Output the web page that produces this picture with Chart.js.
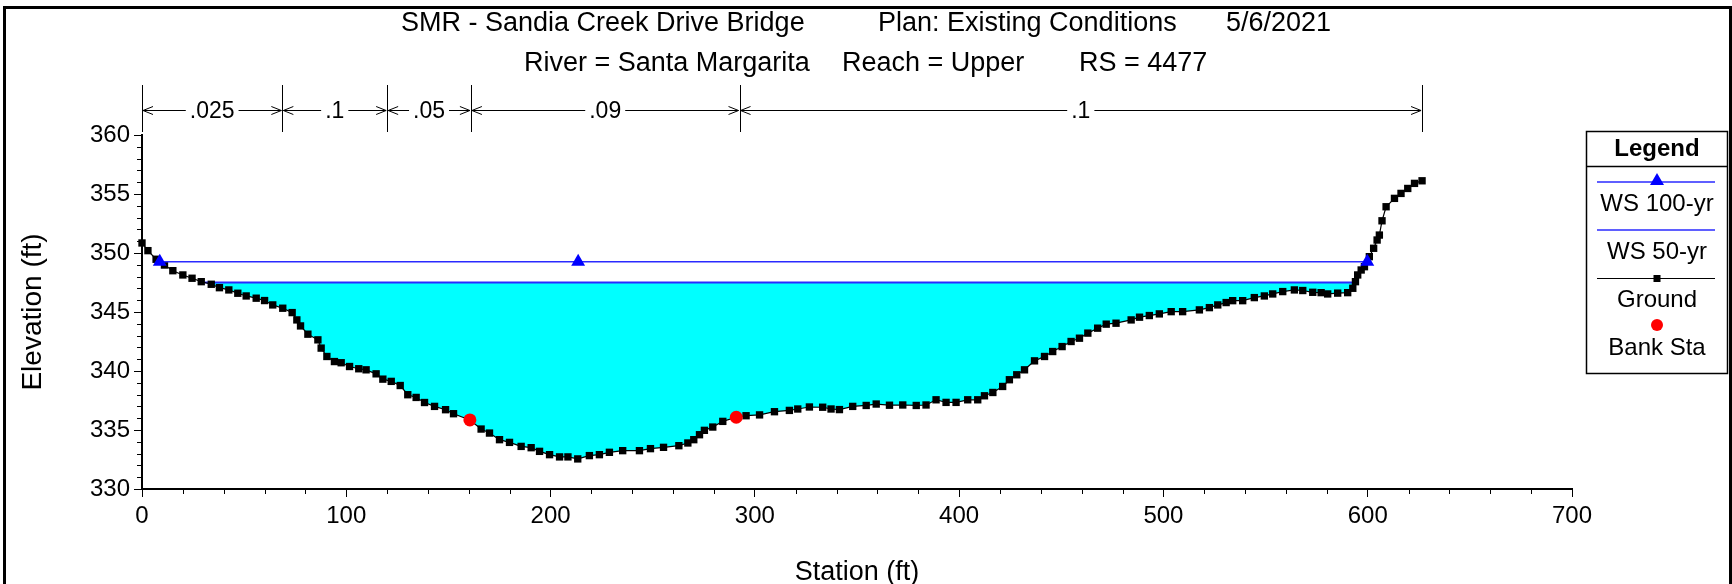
<!DOCTYPE html>
<html>
<head>
<meta charset="utf-8">
<title>Cross Section RS 4477</title>
<script src="https://cdn.jsdelivr.net/npm/chart.js@4.4.0/dist/chart.umd.min.js"></script>
<style>
  html, body { margin: 0; padding: 0; background: #fff; }
  canvas { display: block; }
</style>
</head>
<body>
<canvas id="xs-chart" width="1732" height="584"></canvas>
<script>
// Header text, one entry per block on each line
const titleLine1 = ['SMR - Sandia Creek Drive Bridge', 'Plan: Existing Conditions', '5/6/2021'];
const titleLine2 = ['River = Santa Margarita', 'Reach = Upper', 'RS = 4477'];

// Ground profile (station ft, elevation ft)
const groundStation = [
  0.0, 2.9, 6.9, 11.0, 15.1, 20.0, 24.5, 29.0, 33.9, 37.9,
  42.5, 46.9, 51.0, 55.9, 60.0, 64.0, 68.9, 73.5, 75.8, 77.6,
  81.2, 86.1, 87.7, 90.5, 94.2, 97.5, 101.6, 106.1, 109.7, 114.6,
  117.9, 122.0, 126.4, 130.1, 134.2, 138.3, 143.2, 148.6, 152.5, 160.5,
  166.0, 170.1, 175.0, 179.9, 185.6, 190.5, 194.6, 199.5, 204.4, 208.5,
  213.3, 219.0, 223.9, 228.8, 235.3, 243.5, 248.9, 255.3, 262.8, 267.2,
  270.1, 272.9, 275.3, 279.4, 284.3, 290.9, 295.7, 302.3, 309.6, 316.9,
  321.0, 326.7, 333.2, 337.3, 341.4, 347.9, 354.5, 359.4, 365.9, 372.4,
  379.0, 383.8, 388.7, 393.6, 398.5, 404.2, 409.1, 412.4, 416.5, 421.3,
  424.6, 428.2, 432.0, 436.9, 441.8, 445.8, 450.4, 454.8, 458.9, 463.0,
  467.8, 472.0, 476.8, 484.2, 488.3, 493.1, 498.0, 503.8, 509.4, 517.6,
  522.5, 526.6, 530.7, 533.9, 538.8, 544.5, 549.4, 553.5, 558.4, 564.1,
  568.2, 573.1, 577.2, 580.4, 585.3, 590.2, 592.7, 594.0, 595.1, 596.8,
  598.4, 600.8, 602.9, 604.6, 605.7, 607.0, 609.0, 613.1, 616.3, 619.6,
  622.9, 626.6
];
const groundElev = [
  350.85, 350.20, 349.47, 348.98, 348.50, 348.14, 347.86, 347.57, 347.35, 347.06,
  346.87, 346.59, 346.36, 346.17, 345.97, 345.60, 345.32, 344.95, 344.33, 343.82,
  343.12, 342.64, 341.94, 341.23, 340.80, 340.70, 340.38, 340.19, 340.10, 339.76,
  339.31, 339.12, 338.77, 337.99, 337.76, 337.33, 337.00, 336.72, 336.38, 335.85,
  335.08, 334.74, 334.18, 333.95, 333.61, 333.50, 333.19, 332.91, 332.72, 332.72,
  332.55, 332.83, 332.91, 333.11, 333.25, 333.25, 333.42, 333.53, 333.67, 333.90,
  334.18, 334.60, 334.97, 335.25, 335.73, 336.08, 336.21, 336.28, 336.55, 336.66,
  336.78, 336.95, 336.93, 336.78, 336.73, 337.00, 337.08, 337.20, 337.10, 337.12,
  337.08, 337.12, 337.56, 337.34, 337.34, 337.56, 337.56, 337.90, 338.18, 338.69,
  339.26, 339.68, 340.10, 340.86, 341.23, 341.65, 342.07, 342.50, 342.78, 343.21,
  343.63, 343.97, 344.05, 344.33, 344.56, 344.70, 344.84, 345.03, 345.03, 345.18,
  345.37, 345.60, 345.80, 345.96, 345.96, 346.22, 346.36, 346.53, 346.73, 346.87,
  346.82, 346.67, 346.64, 346.53, 346.60, 346.64, 347.01, 347.57, 348.14, 348.56,
  348.84, 349.69, 350.40, 351.10, 351.52, 352.73, 353.92, 354.63, 355.05, 355.47,
  355.90, 356.12
];

// Bank stations
const bankStation = [160.5, 290.9];
const bankElev = [335.85, 336.08];

// Water surfaces
const ws100Station = [8.7, 213.5, 599.8];
const ws100Elev = 349.26;
const ws50Station = [30.8, 593.6];
const ws50Elev = 347.49;

// Manning's n breakpoints and values across the section
const nBreaks = [0, 68.7, 120, 161, 292.5, 626.6];
const nValues = ['.025', '.1', '.05', '.09', '.1'];

// Axis ranges
const xMin = 0, xMax = 700, xStep = 100, xMinorStep = 20;
const yMin = 330, yMax = 360, yStep = 5, yMinorStep = 1;

const FONT = '"Liberation Sans", Arial, Helvetica, sans-serif';
const WS_BLUE = '#2a2aff';

const groundPoints = groundStation.map((s, i) => ({ x: s, y: groundElev[i] }));
const bankPoints = bankStation.map((s, i) => ({ x: s, y: bankElev[i] }));
const ws100Points = ws100Station.map(s => ({ x: s, y: ws100Elev }));
const ws50Points = ws50Station.map(s => ({ x: s, y: ws50Elev }));

function line(ctx, x0, y0, x1, y1) {
    ctx.beginPath();
    ctx.moveTo(x0, y0);
    ctx.lineTo(x1, y1);
    ctx.stroke();
}

// Frame, header, minor ticks, n-value bar and the legend box
const decorPlugin = {
    id: 'decor',
    afterDraw(chart) {
        const ctx = chart.ctx;
        const xs = chart.scales.x;
        const ys = chart.scales.y;
        ctx.save();

        ctx.strokeStyle = '#000';
        ctx.lineWidth = 3;
        ctx.strokeRect(4.5, 7.5, 1726, 600);

        // header
        ctx.fillStyle = '#000';
        ctx.font = '27px ' + FONT;
        ctx.textBaseline = 'middle';
        ctx.textAlign = 'left';
        ctx.fillText(titleLine1[0], 401, 24);
        ctx.fillText(titleLine1[1], 878, 24);
        ctx.textAlign = 'right';
        ctx.fillText(titleLine1[2], 1331, 24);
        ctx.textAlign = 'left';
        ctx.fillText(titleLine2[0], 524, 64);
        ctx.fillText(titleLine2[1], 842, 64);
        ctx.fillText(titleLine2[2], 1079, 64);

        // minor ticks
        ctx.lineWidth = 1;
        for (let v = yMin; v <= yMax; v += yMinorStep) {
            if (v % yStep === 0) continue;
            const py = Math.round(ys.getPixelForValue(v)) + 0.5;
            line(ctx, xs.left - 5, py, xs.left, py);
        }
        for (let v = xMin; v <= xMax; v += xMinorStep) {
            if (v % xStep === 0) continue;
            const px = Math.round(xs.getPixelForValue(v)) + 0.5;
            line(ctx, px, ys.bottom, px, ys.bottom + 5);
        }

        // Manning's n bar
        const yBar = 110.5, yTop = 85, yBot = 132;
        nBreaks.forEach(s => {
            const px = Math.round(xs.getPixelForValue(s)) + 0.5;
            line(ctx, px, yTop, px, yBot);
        });
        ctx.font = '23px ' + FONT;
        ctx.textAlign = 'center';
        for (let i = 0; i < nValues.length; i++) {
            const x0 = xs.getPixelForValue(nBreaks[i]) + 1;
            const x1 = xs.getPixelForValue(nBreaks[i + 1]) - 1;
            const mid = (x0 + x1) / 2;
            const w = ctx.measureText(nValues[i]).width;
            line(ctx, x0, yBar, mid - w / 2 - 4, yBar);
            line(ctx, mid + w / 2 + 4, yBar, x1, yBar);
            ctx.beginPath();
            ctx.moveTo(x0 + 10, yBar - 4);
            ctx.lineTo(x0, yBar);
            ctx.lineTo(x0 + 10, yBar + 4);
            ctx.moveTo(x1 - 10, yBar - 4);
            ctx.lineTo(x1, yBar);
            ctx.lineTo(x1 - 10, yBar + 4);
            ctx.stroke();
            ctx.fillText(nValues[i], mid, yBar + 1);
        }

        // legend box
        const lx0 = 1586.5, lx1 = 1727.5, ly0 = 131.5, ly1 = 373.5;
        const lcx = (lx0 + lx1) / 2;
        ctx.lineWidth = 1.5;
        ctx.strokeRect(lx0, ly0, lx1 - lx0, ly1 - ly0);
        line(ctx, lx0, 166.5, lx1, 166.5);
        ctx.font = 'bold 24px ' + FONT;
        ctx.fillText('Legend', lcx, 149);
        ctx.font = '24px ' + FONT;

        ctx.lineWidth = 1.5;
        ctx.strokeStyle = WS_BLUE;
        line(ctx, 1597, 182, 1715, 182);
        ctx.fillStyle = 'blue';
        ctx.beginPath();
        ctx.moveTo(lcx, 173);
        ctx.lineTo(lcx + 7, 185);
        ctx.lineTo(lcx - 7, 185);
        ctx.closePath();
        ctx.fill();
        ctx.fillStyle = '#000';
        ctx.fillText('WS 100-yr', lcx, 204);

        ctx.strokeStyle = WS_BLUE;
        line(ctx, 1597, 230, 1715, 230);
        ctx.fillText('WS 50-yr', lcx, 252);

        ctx.strokeStyle = '#000';
        ctx.lineWidth = 1;
        line(ctx, 1597, 278.5, 1715, 278.5);
        ctx.fillRect(lcx - 3.5, 275, 7, 7);
        ctx.fillText('Ground', lcx, 300);

        ctx.fillStyle = 'red';
        ctx.beginPath();
        ctx.arc(lcx, 325, 6, 0, Math.PI * 2);
        ctx.fill();
        ctx.fillStyle = '#000';
        ctx.fillText('Bank Sta', lcx, 348);

        ctx.restore();
    }
};

Chart.defaults.font.family = FONT;
Chart.defaults.color = '#000';

const axisFont = { size: 24 };

new Chart(document.getElementById('xs-chart').getContext('2d'), {
    type: 'line',
    data: {
        datasets: [
            {
                label: 'Bank Sta',
                data: bankPoints,
                showLine: false,
                pointStyle: 'circle',
                pointRadius: 6.5,
                pointBackgroundColor: 'red',
                pointBorderWidth: 0,
                clip: false
            },
            {
                label: 'WS 100-yr',
                data: ws100Points,
                borderColor: WS_BLUE,
                borderWidth: 1.5,
                pointStyle: 'triangle',
                pointRadius: 8,
                pointBackgroundColor: 'blue',
                pointBorderWidth: 0,
                fill: false,
                clip: false
            },
            {
                label: 'Ground',
                data: groundPoints,
                borderColor: '#000',
                borderWidth: 1.2,
                pointStyle: 'rect',
                pointRadius: 5.2,
                pointBackgroundColor: '#000',
                pointBorderWidth: 0,
                fill: false,
                clip: false
            },
            {
                label: 'WS 50-yr',
                data: ws50Points,
                borderColor: WS_BLUE,
                borderWidth: 2,
                pointRadius: 0,
                fill: { target: 2, above: '#00ffff', below: 'rgba(0,0,0,0)' },
                clip: false
            }
        ]
    },
    options: {
        responsive: false,
        animation: false,
        devicePixelRatio: 1,
        events: [],
        layout: { padding: { left: 0, right: 160, top: 135, bottom: 0 } },
        plugins: {
            legend: { display: false },
            tooltip: { enabled: false }
        },
        scales: {
            x: {
                type: 'linear',
                min: xMin,
                max: xMax,
                afterFit: scale => { scale.height = 95; },
                ticks: { stepSize: xStep, font: axisFont, color: '#000', padding: 5, maxRotation: 0, autoSkip: false },
                grid: { drawOnChartArea: false, drawTicks: true, tickLength: 8, color: '#000', lineWidth: 1 },
                border: { display: true, color: '#000', width: 2 },
                title: { display: true, text: 'Station (ft)', color: '#000', font: { size: 27, lineHeight: 0.85 }, padding: 0 }
            },
            y: {
                type: 'linear',
                min: yMin,
                max: yMax,
                afterFit: scale => { scale.width = 142; },
                ticks: { stepSize: yStep, font: axisFont, color: '#000', padding: 4 },
                grid: { drawOnChartArea: false, drawTicks: true, tickLength: 8, color: '#000', lineWidth: 1 },
                border: { display: true, color: '#000', width: 2 },
                title: { display: true, text: 'Elevation (ft)', color: '#000', font: { size: 28 }, padding: { top: 16, bottom: 0 } }
            }
        }
    },
    plugins: [decorPlugin]
});
</script>
</body>
</html>
